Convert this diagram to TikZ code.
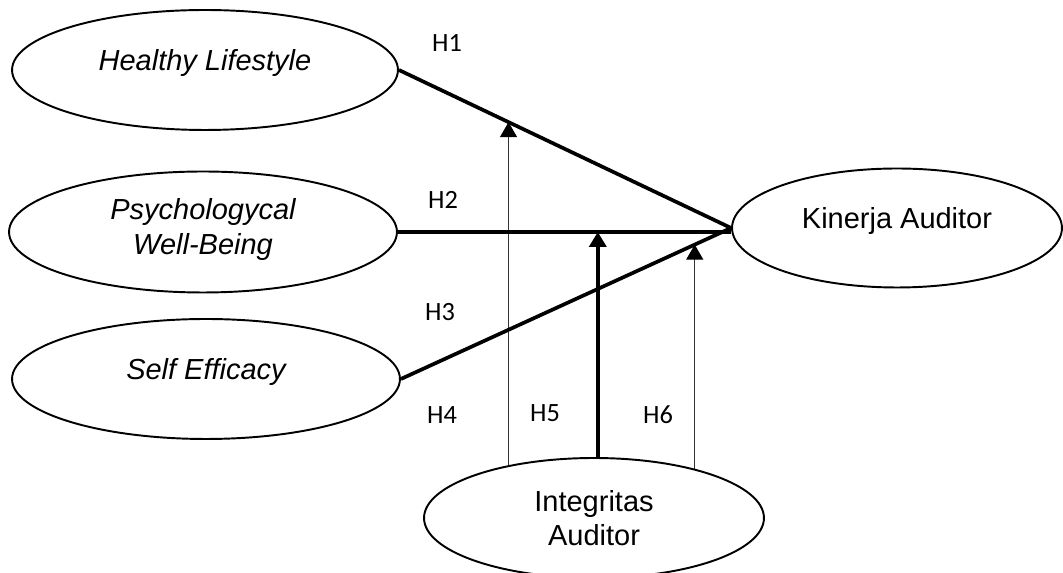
\documentclass[tikz,border=0pt]{standalone}
\usepackage{fontspec}
\setmainfont{Liberation Sans}
\newfontfamily\calibri{Carlito}
\usetikzlibrary{arrows.meta,shapes,backgrounds,calc}

\begin{document}
\begin{tikzpicture}[x=0.02cm,y=-0.02cm,
    var/.style={draw,ellipse,line width=1.1pt,fill=white,align=center,inner sep=0pt,
      font=\fontsize{16.5}{19}\selectfont},
    ivar/.style={var,font=\fontsize{16.5}{20}\selectfont\itshape},
    lift/.style={text depth=0.4cm},
    rel/.style={line width=2.1pt},
    mod/.style={line width=0.6pt,draw=black!80,-{Triangle[width=0.34cm,length=0.3cm,color=black]}},
    hyp/.style={font=\calibri\fontsize{15}{18}\selectfont}]

    \useasboundingbox (0,0) rectangle (1063,573);

    % variables
    \node[ivar,lift,minimum width=7.72cm,minimum height=2.4cm] (hl) at (205,70) {Healthy Lifestyle};
    \node[ivar,minimum width=7.76cm,minimum height=2.42cm,text depth=0.22cm] (pw) at (203,232) {Psychologycal\\Well-Being};
    \node[ivar,lift,minimum width=7.76cm,minimum height=2.4cm] (se) at (206,379) {Self Efficacy};
    \node[var,lift,minimum width=6.6cm,minimum height=2.38cm] (ka) at (897,228) {Kinerja Auditor};
    \node[var,minimum width=6.8cm,minimum height=2.4cm] (ia) at (594,518) {Integritas\\Auditor};

    % direct effects
    \coordinate (kh) at (pw.east -| ka.west);
    \draw[rel] (hl.east) -- (ka.west);
    \draw[rel] (pw.east) -- (kh);
    \draw[rel] (se.east) -- (ka.west);

    % moderation
    \coordinate (t5) at ($(hl.east)!0.33!(ka.west)$);
    \coordinate (t6) at ($(pw.east)!0.6!(kh)$);
    \coordinate (t7) at ($(se.east)!0.89!(ka.west)$);
    \begin{scope}[on background layer]
      \draw[mod] (t5 |- ia.center) -- (t5);
      \draw[mod,line width=2.3pt,draw=black] (t6 |- ia.center) -- (t6);
      \draw[mod] (t7 |- ia.center) -- (t7);
    \end{scope}

    \node[hyp] (h1) at (447,43) {H1};
    \node[hyp] (h2) at (443,200) {H2};
    \node[hyp] (h3) at (440,312) {H3};
    \node[hyp] (h4) at (442,415) {H4};
    \node[hyp] (h5) at (545,413) {H5};
    \node[hyp] (h6) at (658,415) {H6};
  \end{tikzpicture}
\end{document}
